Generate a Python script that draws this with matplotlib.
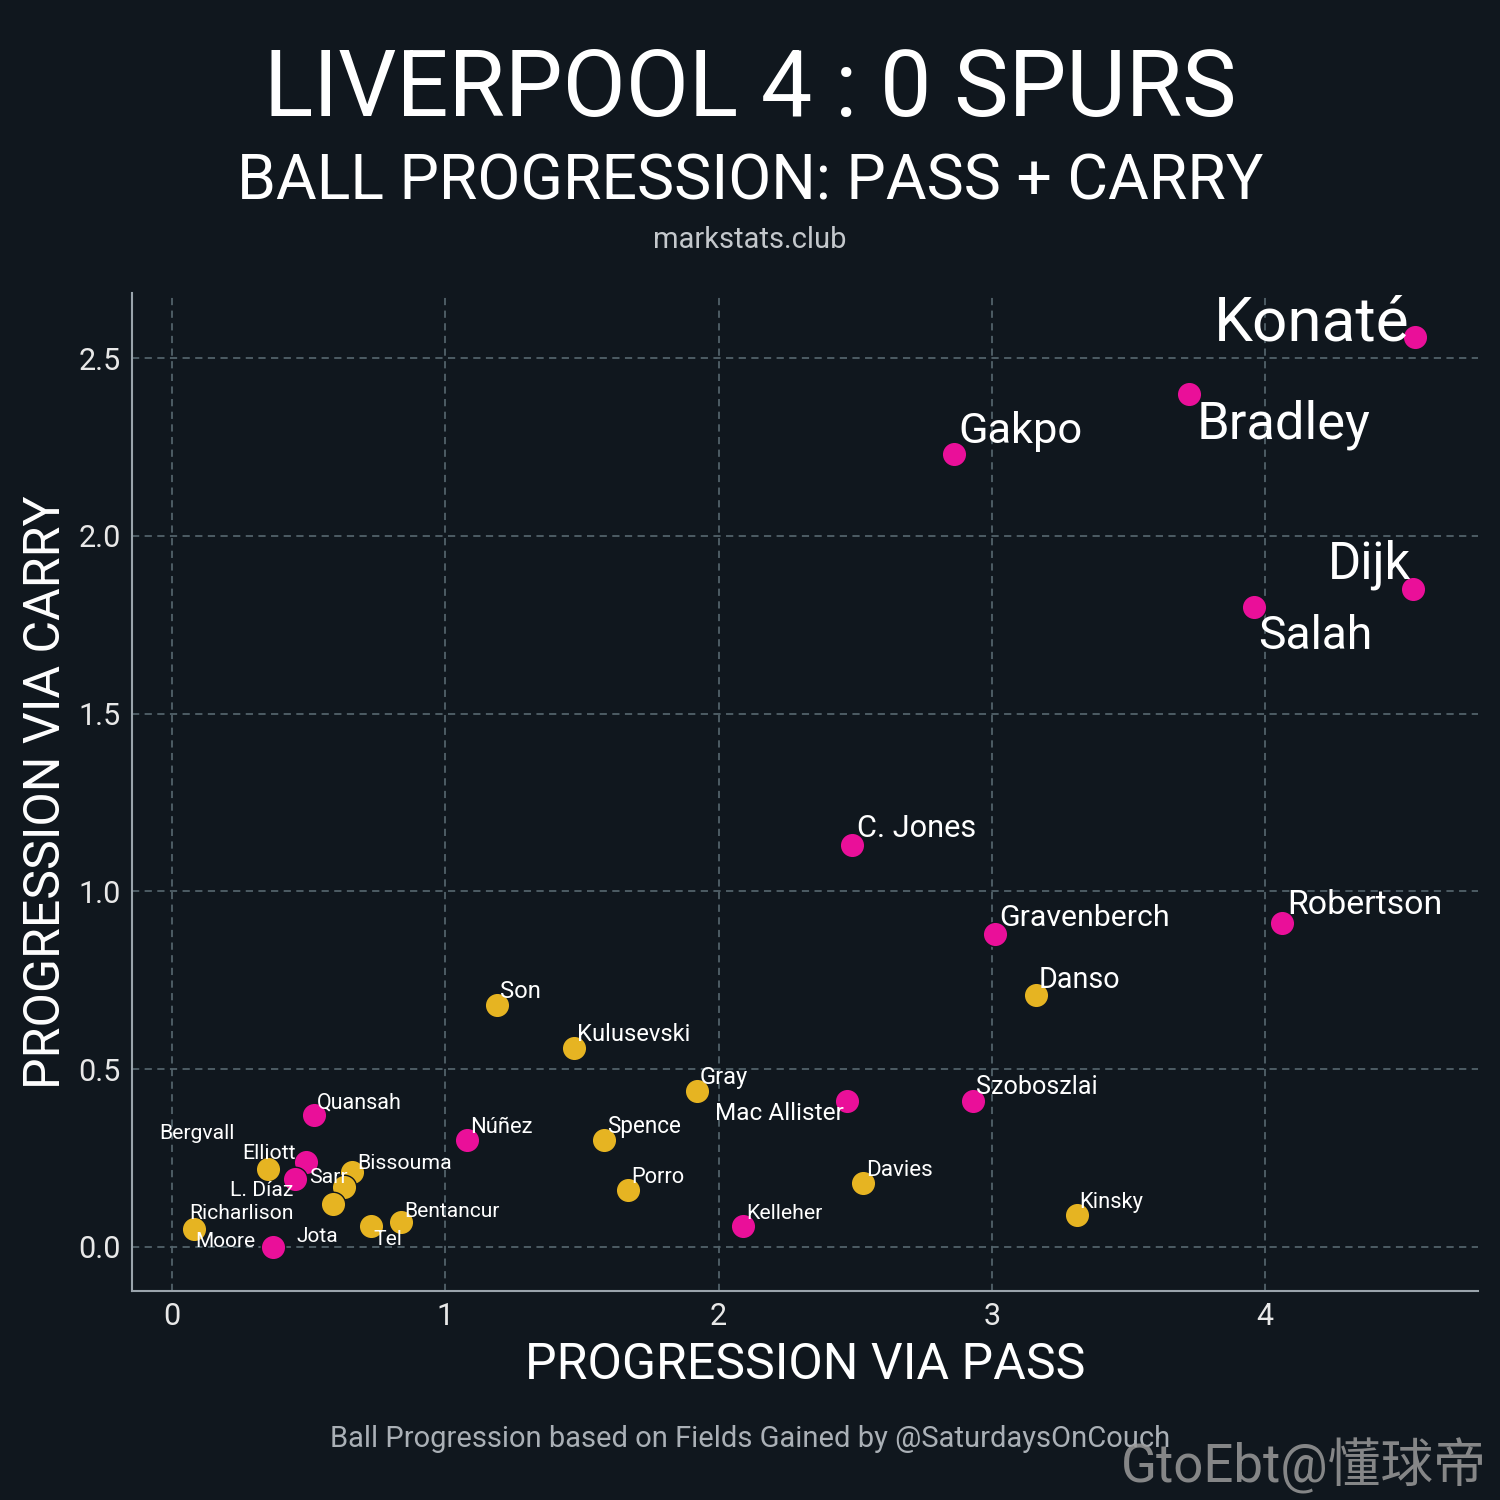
import matplotlib
matplotlib.use("Agg")
import matplotlib.pyplot as plt

# ---------------- data ----------------
players = ["Konaté", "Bradley", "Gakpo", "Dijk", "Salah", "C. Jones", "Gravenberch",
           "Robertson", "Mac Allister", "Szoboszlai", "Quansah", "Núñez", "Kelleher",
           "Elliott", "L. Díaz", "Jota",
           "Danso", "Son", "Kulusevski", "Gray", "Spence", "Davies", "Porro", "Kinsky",
           "Bergvall", "Bissouma", "Sarr", "Richarlison", "Moore", "Tel", "Bentancur"]
team = ["LIV"] * 16 + ["TOT"] * 15
pass_prog = [4.55, 3.72, 2.86, 4.54, 3.96, 2.49, 3.01,
             4.06, 2.47, 2.93, 0.52, 1.08, 2.09,
             0.49, 0.45, 0.37,
             3.16, 1.19, 1.47, 1.92, 1.58, 2.53, 1.67, 3.31,
             0.35, 0.66, 0.63, 0.59, 0.08, 0.73, 0.84]
carry_prog = [2.56, 2.40, 2.23, 1.85, 1.80, 1.13, 0.88,
              0.91, 0.41, 0.41, 0.37, 0.30, 0.06,
              0.24, 0.19, 0.00,
              0.71, 0.68, 0.56, 0.44, 0.30, 0.18, 0.16, 0.09,
              0.22, 0.21, 0.17, 0.12, 0.05, 0.06, 0.07]

x_ticks = [0, 1, 2, 3, 4]
y_ticks = [0.0, 0.5, 1.0, 1.5, 2.0, 2.5]

# ---------------- layout / style ----------------
BG = "#10171e"
COLORS = {"LIV": "#ea0f99", "TOT": "#e6b422"}
DPI = 100
PX = 72.0 / DPI  # points per pixel

# label offsets in pixels (dx, dy up) and horizontal alignment
DEFAULT_OFF = (3, 7, "left")
OFFSETS = {
    "Konaté": (-6, -4, "right"),
    "Bradley": (8, -45, "left"),
    "Gakpo": (5, 11, "left"),
    "Dijk": (-2, 11, "right"),
    "Salah": (4, -42, "left"),
    "C. Jones": (5, 8, "left"),
    "Gravenberch": (5, 8, "left"),
    "Robertson": (6, 9, "left"),
    "Mac Allister": (-3, -19, "right"),
    "Bergvall": (-108, 30, "left"),
    "Elliott": (-64, 3, "left"),
    "L. Díaz": (-65, -17, "left"),
    "Sarr": (-35, 4, "left"),
    "Bissouma": (5, 3, "left"),
    "Richarlison": (-144, -15, "left"),
    "Moore": (1, -18, "left"),
    "Jota": (23, 5, "left"),
    "Tel": (2, -19, "left"),
    "Bentancur": (3, 5, "left"),
}

plt.rcParams["font.family"] = ["Roboto", "DejaVu Sans"]

fig = plt.figure(figsize=(15, 15), dpi=DPI, facecolor=BG)
ax = fig.add_axes([0.088, 0.1393, 0.897, 0.6654])
ax.set_facecolor(BG)

ax.grid(True, color="#52626a", linestyle=(0, (4, 3)), linewidth=1.3)
ax.set_axisbelow(True)

for name, t, xv, yv in zip(players, team, pass_prog, carry_prog):
    ax.scatter(xv, yv, s=310, color=COLORS[t], edgecolors=BG, linewidths=1.0, zorder=3)

for name, xv, yv in zip(players, pass_prog, carry_prog):
    dx, dy, ha = OFFSETS.get(name, DEFAULT_OFF)
    fs = 15 + 2.55 * xv * yv
    ax.annotate(name, (xv, yv), xytext=(dx * PX, dy * PX), textcoords="offset points",
                ha=ha, va="baseline", fontsize=fs, color="white", zorder=4)

ax.set_xlim(-0.146, 4.777)
ax.set_ylim(-0.124, 2.683)
ax.set_xticks(x_ticks)
ax.set_xticklabels([str(v) for v in x_ticks])
ax.set_yticks(y_ticks)
ax.set_yticklabels([f"{v:.1f}" for v in y_ticks])
ax.tick_params(colors="#e8e8e8", labelsize=22, length=0, pad=8)
for side in ["top", "right"]:
    ax.spines[side].set_visible(False)
for side in ["left", "bottom"]:
    ax.spines[side].set_color("#9aa4ac")
    ax.spines[side].set_linewidth(1.5)

ax.set_xlabel("PROGRESSION VIA PASS", fontsize=36, color="white", labelpad=7)
ax.set_ylabel("PROGRESSION VIA CARRY", fontsize=36, color="white", labelpad=6)

fig.text(0.5, 1 - 116 / 1500, "LIVERPOOL 4 : 0 SPURS", ha="center", va="baseline",
         fontsize=66, color="white")
fig.text(0.5, 1 - 199 / 1500, "BALL PROGRESSION: PASS + CARRY", ha="center", va="baseline",
         fontsize=45, color="white")
fig.text(0.5, 1 - 248 / 1500, "markstats.club", ha="center", va="baseline",
         fontsize=21, color="#c4c8cc")
fig.text(0.5, 1 - 1447 / 1500, "Ball Progression based on Fields Gained by @SaturdaysOnCouch",
         ha="center", va="baseline", fontsize=21, color="#aab0b6")
fig.text(1 - 13 / 1500, 1 - 1482 / 1500, "GtoEbt@懂球帝", ha="right", va="baseline",
         fontsize=38, color="#9a9a9a", alpha=0.85,
         family=["Roboto", "Noto Sans CJK SC", "DejaVu Sans"])

fig.savefig("out.png", dpi=DPI, facecolor=BG)
